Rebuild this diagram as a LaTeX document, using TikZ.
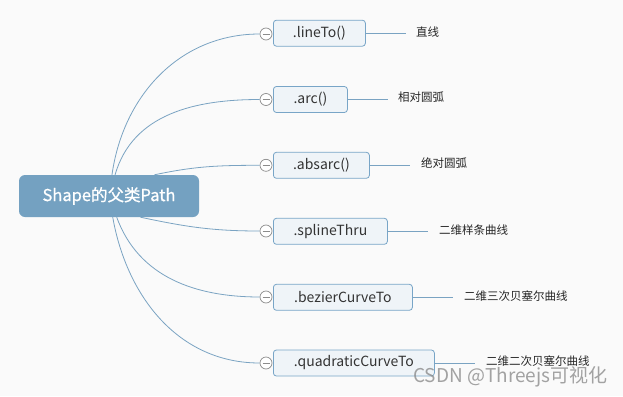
\documentclass[tikz,border=0pt]{standalone}
\usepackage{fontspec}
\setmainfont{Noto Sans CJK SC}
\newfontfamily\hubfont[FakeBold=0.8]{Noto Sans CJK SC}
\usetikzlibrary{positioning}

\definecolor{bgcol}{RGB}{250,250,250}
\definecolor{wirecol}{RGB}{122,163,194}
\definecolor{rootcol}{RGB}{116,161,193}
\definecolor{boxfill}{RGB}{239,244,248}
\definecolor{boxline}{RGB}{120,165,199}
\definecolor{knobcol}{RGB}{140,140,140}

\begin{document}
\begin{tikzpicture}[x=1pt, y=-1pt,
    wire/.style={draw=wirecol, line width=0.8pt},
    topic/.style={draw=boxline, fill=boxfill, rounded corners=3pt, line width=0.8pt,
      minimum height=26pt, inner sep=0pt, anchor=west, text=black!80,
      font=\fontsize{14}{16}\selectfont},
    knob/.style={circle, draw=knobcol, fill=white, minimum size=12pt, inner sep=0pt,
      line width=0.7pt, path picture={\draw[knobcol, line width=0.8pt]
        ([xshift=2.5pt]path picture bounding box.west) -- ([xshift=-2.5pt]path picture bounding box.east);}},
    note/.style={inner sep=0pt, text=black!85, font=\fontsize{11.5}{14}\selectfont},
    hub/.style={fill=rootcol, rounded corners=6pt, minimum width=180pt, minimum height=42pt,
      text=white, font=\fontsize{16.5}{20}\hubfont}]
  \useasboundingbox[fill=bgcol] (0,0) rectangle (623,396);

  % root
  \node[hub] (root) at (109,196) {Shape的父类Path};

  % topics
  \node[topic, minimum width=92pt] (t1) at (273,33.2) {.lineTo()};
  \node[topic, minimum width=74pt] (t2) at (273,99.5) {.arc()};
  \node[topic, minimum width=96pt] (t3) at (273,165.3) {.absarc()};
  \node[topic, minimum width=114pt] (t4) at (273,231.3) {.splineThru};
  \node[topic, minimum width=139pt] (t5) at (273,297.3) {.bezierCurveTo};
  \node[topic, minimum width=161pt] (t6) at (273,363) {.quadraticCurveTo};

  \node[knob] (k1) at (266,34) {};
  \node[knob] (k2) at (266,99.5) {};
  \node[knob] (k3) at (266,165.3) {};
  \node[knob] (k4) at (266,231) {};
  \node[knob] (k5) at (266,297) {};
  \node[knob] (k6) at (266,363) {};

  % branches
  \draw[wire] (root) to[out=82, in=180] (k1);
  \draw[wire] (root) to[out=74, in=180] (k2);
  \draw[wire] (root.25) to[out=12, in=180] (k3);
  \draw[wire] (root.-34) to[out=-12, in=180] (k4);
  \draw[wire] (root) to[out=-70, in=180] (k5);
  \draw[wire] (root) to[out=-80, in=180] (k6);

  % notes
  \coordinate[right=40pt of t1.east] (e1);
  \coordinate[right=40pt of t2.east] (e2);
  \coordinate[right=40pt of t3.east] (e3);
  \coordinate[right=40pt of t4.east] (e4);
  \coordinate[right=40pt of t5.east] (e5);
  \coordinate[right=40pt of t6.east] (e6);
  \draw[wire] (t1) -- (e1);
  \draw[wire] (t2) -- (e2);
  \draw[wire] (t3) -- (e3);
  \draw[wire] (t4) -- (e4);
  \draw[wire] (t5) -- (e5);
  \draw[wire] (t6) -- (e6);
  \node[note, right=10pt of e1, yshift=1.5pt] (n1) {直线};
  \node[note, right=10pt of e2, yshift=2pt] (n2) {相对圆弧};
  \node[note, right=11pt of e3, yshift=2pt] (n3) {绝对圆弧};
  \node[note, right=11pt of e4, yshift=1.5pt] (n4) {二维样条曲线};
  \node[note, right=11pt of e5, yshift=1.5pt] (n5) {二维三次贝塞尔曲线};
  \node[note, right=11pt of e6, yshift=1.5pt] (n6) {二维二次贝塞尔曲线};

  % watermark
  \node[anchor=west, inner sep=0pt, text=black!45, opacity=0.8,
    font=\fontsize{19}{22}\selectfont] (wm) at (413,377) {CSDN @Threejs可视化};
\end{tikzpicture}
\end{document}
